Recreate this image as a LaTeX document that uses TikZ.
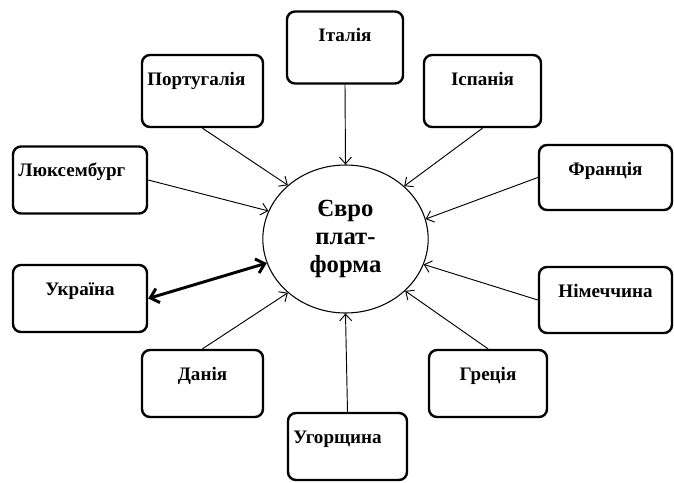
\documentclass[tikz,border=0pt]{standalone}
\usepackage{fontspec}
\setmainfont{Liberation Serif}[BoldFont={Liberation Serif Bold}]
\usepackage{tikz}
\usetikzlibrary{arrows.meta,shapes.geometric}

\tikzset{
  country/.style={draw, line width=1.8pt, rounded corners=6pt, inner xsep=4pt, inner ysep=4pt,
    font=\fontsize{14.3}{16}\selectfont\bfseries, text height=18.5pt, text depth=23.75pt},
  toplink/.style={line width=0.7pt, -{Straight Barb[length=5pt,width=9pt]}},
  mainlink/.style={line width=2.2pt, {Straight Barb[length=6pt,width=11pt]}-{Straight Barb[length=6pt,width=11pt]}}
}

\begin{document}
\begin{tikzpicture}[x=0.75pt,y=0.75pt,yscale=-1,xscale=1]

\useasboundingbox (0,0) rectangle (674,482);

\node [draw, ellipse, line width=0.8pt, minimum width=124pt, minimum height=111pt, align=center,
  font=\fontsize{18.5}{21}\selectfont\bfseries] (euro) at (345.5,239) {Євро\\плат-\\форма};

\node [country, minimum width=87pt, text depth=27.5pt] (italy) at (345,47.5) {Італія};
\node [country, text width=82.75pt, align=left, text depth=27.5pt] (portugal) at (202.5,91) {Португалія};
\node [country, text width=92.5pt, align=left] (lux) at (80,180) {Люксембург};
\node [country, minimum width=87.75pt, text depth=27.5pt] (spain) at (482.5,91) {Іспанія};
\node [country, minimum width=99.75pt, text depth=22.25pt] (france) at (605.5,177.5) {Франція};
\node [country, minimum width=100.5pt] (ukraine) at (80,298.5) {Україна};
\node [country, minimum width=90.75pt] (denmark) at (202.5,383.5) {Данія};
\node [country, text width=81.25pt, align=left] (hungary) at (347.5,446.5) {Угорщина};
\node [country, minimum width=99.75pt, text depth=23pt] (germany) at (605.5,300) {Німеччина};
\node [country, minimum width=88.5pt] (greece) at (488,383.5) {Греція};

% connections to the platform
\draw [toplink] (italy.south) -- (euro.90);
\draw [toplink] (portugal.south) -- (euro.137);
\draw [toplink] (lux.east) -- (euro.160);
\draw [toplink] (spain.south) -- (euro.42);
\draw [toplink] (france.west) -- (euro.14);
\draw [toplink] (denmark.north) -- (euro.223);
\draw [toplink] (hungary.north) -- (euro.270);
\draw [toplink] (greece.north) -- (euro.319);
\draw [toplink] (germany.west) -- (euro.342);
\draw [mainlink] (ukraine.east) -- (euro.197);

\end{tikzpicture}
\end{document}
